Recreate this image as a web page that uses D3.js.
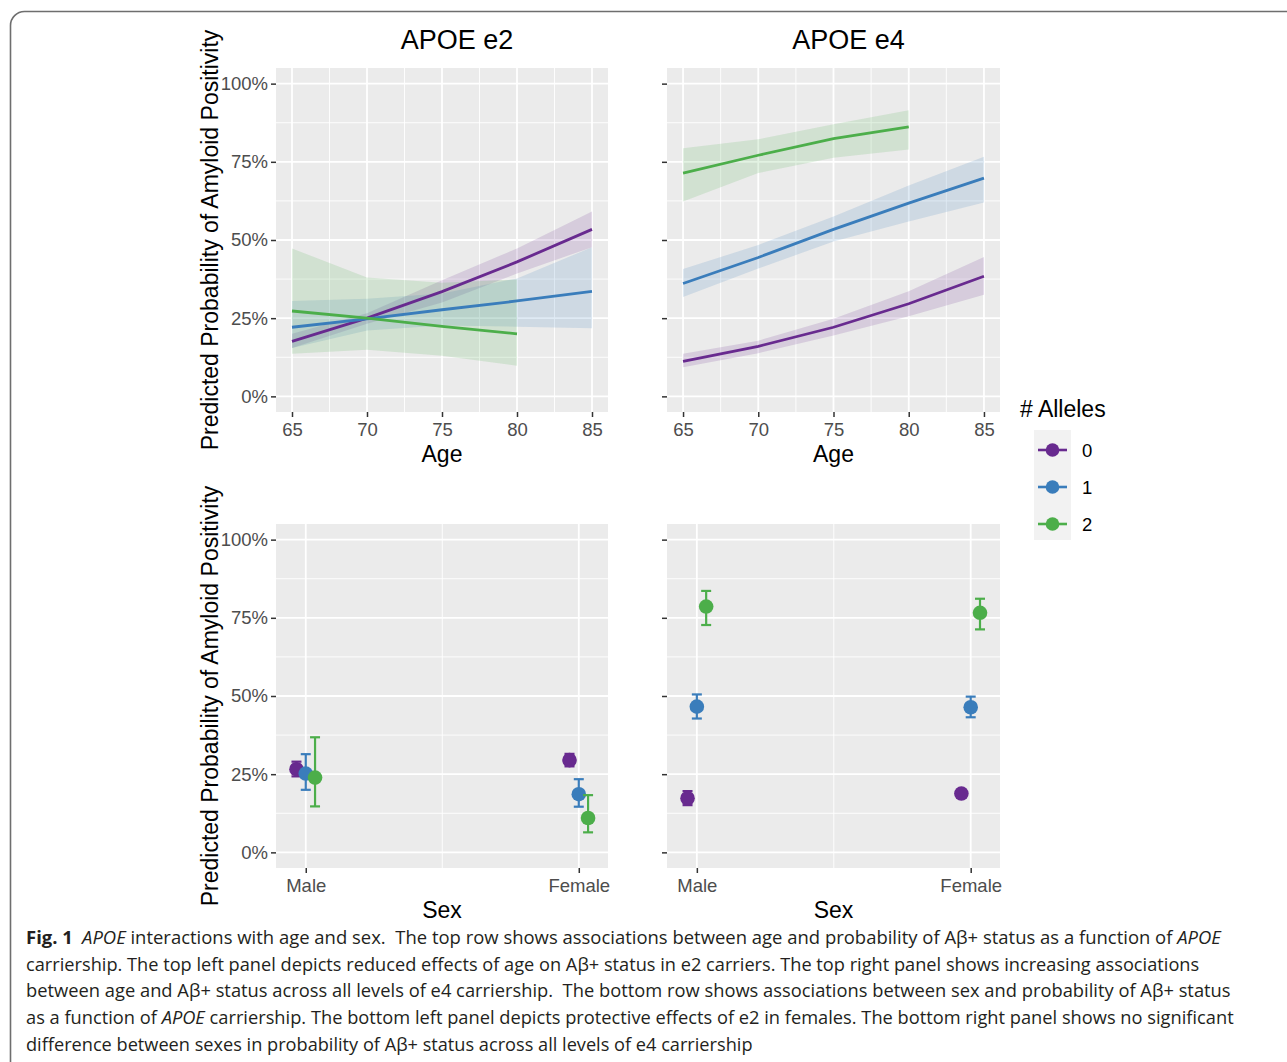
<!DOCTYPE html>
<html>
<head>
<meta charset="utf-8">
<script src="https://cdn.jsdelivr.net/npm/d3@7"></script>
<style>
  body { margin: 0; background: #fff; }
  svg { display: block; font-family: "Liberation Sans", Arial, sans-serif; }
</style>
</head>
<body>
<script>
// ---- data ----
var ages = [65, 70, 75, 80, 85];
var agesE2Hom = [65, 70, 75, 80];
var alleles = ["0", "1", "2"];
var sexes = ["Male", "Female"];
var pctTicks = [0, 0.25, 0.5, 0.75, 1];

// APOE e2, age model (fit, lower, upper)
var e2Fit0 = [0.176, 0.250, 0.335, 0.430, 0.534];
var e2Lo0 = [0.155, 0.232, 0.300, 0.393, 0.477];
var e2Hi0 = [0.200, 0.266, 0.371, 0.473, 0.591];
var e2Fit1 = [0.221, 0.248, 0.277, 0.305, 0.336];
var e2Lo1 = [0.155, 0.211, 0.227, 0.223, 0.218];
var e2Hi1 = [0.305, 0.312, 0.329, 0.377, 0.477];
var e2Fit2 = [0.273, 0.250, 0.224, 0.200];
var e2Lo2 = [0.136, 0.149, 0.130, 0.098];
var e2Hi2 = [0.473, 0.380, 0.363, 0.374];

// APOE e4, age model
var e4Fit0 = [0.112, 0.160, 0.221, 0.296, 0.384];
var e4Lo0 = [0.093, 0.138, 0.195, 0.256, 0.325];
var e4Hi0 = [0.136, 0.178, 0.248, 0.336, 0.446];
var e4Fit1 = [0.361, 0.444, 0.534, 0.618, 0.698];
var e4Lo1 = [0.318, 0.409, 0.495, 0.559, 0.620];
var e4Hi1 = [0.407, 0.484, 0.575, 0.674, 0.766];
var e4Fit2 = [0.714, 0.771, 0.824, 0.862];
var e4Lo2 = [0.623, 0.714, 0.763, 0.789];
var e4Hi2 = [0.793, 0.822, 0.870, 0.915];

// sex model (Male, Female)
var e2SexFit0 = [0.266, 0.295], e2SexLo0 = [0.243, 0.275], e2SexHi0 = [0.290, 0.315];
var e2SexFit1 = [0.252, 0.186], e2SexLo1 = [0.200, 0.146], e2SexHi1 = [0.314, 0.234];
var e2SexFit2 = [0.239, 0.110], e2SexLo2 = [0.147, 0.064], e2SexHi2 = [0.368, 0.183];
var e4SexFit0 = [0.173, 0.188], e4SexLo0 = [0.151, 0.175], e4SexHi0 = [0.196, 0.200];
var e4SexFit1 = [0.466, 0.464], e4SexLo1 = [0.428, 0.432], e4SexHi1 = [0.505, 0.498];
var e4SexFit2 = [0.786, 0.766], e4SexLo2 = [0.727, 0.713], e4SexHi2 = [0.836, 0.811];

var colors = ["#682a8f", "#3a7dbb", "#4cae4a"];

// ---- svg ----
var svgWidth = 1287;
var svgHeight = 1062;

var svg = d3.select("body")
    .append("svg")
    .attr("width", svgWidth)
    .attr("height", svgHeight);

// rounded frame around the figure
svg.append("rect")
    .attr("x", 10.5).attr("y", 11.5)
    .attr("width", 1400).attr("height", 1300)
    .attr("rx", 14)
    .attr("fill", "none")
    .attr("stroke", "#6e6e6e")
    .attr("stroke-width", 1.6);

// helper to zip arrays into rows
function rows(xs, fit, lo, hi) {
    return xs.map((x, i) => ({ x: x, fit: fit[i], lo: lo[i], hi: hi[i] }));
}

var ageData = {
    e2: [rows(ages, e2Fit0, e2Lo0, e2Hi0), rows(ages, e2Fit1, e2Lo1, e2Hi1), rows(agesE2Hom, e2Fit2, e2Lo2, e2Hi2)],
    e4: [rows(ages, e4Fit0, e4Lo0, e4Hi0), rows(ages, e4Fit1, e4Lo1, e4Hi1), rows(agesE2Hom, e4Fit2, e4Lo2, e4Hi2)]
};
var sexData = {
    e2: [rows(sexes, e2SexFit0, e2SexLo0, e2SexHi0), rows(sexes, e2SexFit1, e2SexLo1, e2SexHi1), rows(sexes, e2SexFit2, e2SexLo2, e2SexHi2)],
    e4: [rows(sexes, e4SexFit0, e4SexLo0, e4SexHi0), rows(sexes, e4SexFit1, e4SexLo1, e4SexHi1), rows(sexes, e4SexFit2, e4SexLo2, e4SexHi2)]
};

// draw one panel's background, grid and y axis
function panelFrame(left, top, w, h, y, showLabels) {
    var g = svg.append("g").attr("transform", `translate(${left}, ${top})`);
    g.append("rect").attr("width", w).attr("height", h).attr("fill", "#ebebeb");

    // minor horizontal grid
    g.selectAll(".yminor")
        .data([0.125, 0.375, 0.625, 0.875])
        .enter().append("line")
        .attr("x1", 0).attr("x2", w)
        .attr("y1", d => y(d)).attr("y2", d => y(d))
        .attr("stroke", "#fff").attr("stroke-width", 0.9);
    g.selectAll(".ymajor")
        .data(pctTicks)
        .enter().append("line")
        .attr("x1", 0).attr("x2", w)
        .attr("y1", d => y(d)).attr("y2", d => y(d))
        .attr("stroke", "#fff").attr("stroke-width", 1.8);

    var leftAxis = d3.axisLeft(y)
        .tickValues(pctTicks)
        .tickSize(5)
        .tickPadding(3)
        .tickFormat(showLabels ? d3.format(".0%") : "");
    var ax = g.append("g").call(leftAxis);
    styleAxis(ax);
    return g;
}

function styleAxis(ax) {
    ax.select(".domain").remove();
    ax.selectAll(".tick line").attr("stroke", "#333").attr("stroke-width", 1.5);
    ax.selectAll(".tick text")
        .attr("fill", "#4d4d4d")
        .attr("font-size", "18.5px")
        .attr("font-family", "Liberation Sans, Arial, sans-serif");
}

// vertical gridlines
function vGrid(g, values, x, h, width) {
    g.selectAll(null)
        .data(values)
        .enter().append("line")
        .attr("x1", d => x(d)).attr("x2", d => x(d))
        .attr("y1", 0).attr("y2", h)
        .attr("stroke", "#fff").attr("stroke-width", width);
}

// ---- top row: age panels ----
var topY = 68, topH = 344;
var bottomY = 524, bottomH = 344;
var panels = [
    { key: "e2", left: 276, width: 332, title: "APOE e2", showLabels: true },
    { key: "e4", left: 667, width: 333, title: "APOE e4", showLabels: false }
];

panels.forEach(p => {
    var y = d3.scaleLinear().domain([-0.05, 1.05]).range([topH, 0]);
    var x = d3.scaleLinear().domain([64, 86]).range([1, p.width - 1]);
    var g = panelFrame(p.left, topY, p.width, topH, y, p.showLabels);

    vGrid(g, [67.5, 72.5, 77.5, 82.5], x, topH, 0.9);
    vGrid(g, ages, x, topH, 1.8);

    var bottomAxis = d3.axisBottom(x).tickValues(ages).tickSize(5).tickPadding(6);
    var ax = g.append("g").attr("transform", `translate(0, ${topH})`).call(bottomAxis);
    styleAxis(ax);

    var area = d3.area()
        .x(d => x(d.x))
        .y0(d => y(d.lo))
        .y1(d => y(d.hi));
    var line = d3.line()
        .x(d => x(d.x))
        .y(d => y(d.fit));

    ageData[p.key].forEach((series, i) => {
        g.append("path")
            .datum(series)
            .attr("d", area)
            .attr("fill", colors[i])
            .attr("fill-opacity", 0.16);
    });
    ageData[p.key].forEach((series, i) => {
        g.append("path")
            .datum(series)
            .attr("d", line)
            .attr("fill", "none")
            .attr("stroke", colors[i])
            .attr("stroke-width", 2.8);
    });

    // panel title
    svg.append("text")
        .attr("x", p.left + p.width / 2 + 15)
        .attr("y", 49)
        .attr("text-anchor", "middle")
        .attr("font-size", "27px")
        .attr("fill", "#000")
        .text(p.title);

    // x axis title
    svg.append("text")
        .attr("x", p.left + p.width / 2)
        .attr("y", 462)
        .attr("text-anchor", "middle")
        .attr("font-size", "23px")
        .attr("fill", "#000")
        .text("Age");
});

// ---- bottom row: sex panels ----
var dodge = [-0.034, 0, 0.034];

panels.forEach(p => {
    var y = d3.scaleLinear().domain([-0.05, 1.05]).range([bottomH, 0]);
    var x = d3.scaleLinear().domain([0.891, 2.107]).range([0, p.width]);
    var xBand = d => x(sexes.indexOf(d) + 1);
    var g = panelFrame(p.left, bottomY, p.width, bottomH, y, p.showLabels);

    vGrid(g, [1.5], x, bottomH, 0.9);
    vGrid(g, [1, 2], x, bottomH, 1.8);

    var bottomAxis = d3.axisBottom(x)
        .tickValues([1, 2])
        .tickSize(5)
        .tickPadding(6)
        .tickFormat(d => sexes[d - 1]);
    var ax = g.append("g").attr("transform", `translate(0, ${bottomH})`).call(bottomAxis);
    styleAxis(ax);

    sexData[p.key].forEach((series, i) => {
        var grp = g.append("g");
        var cx = d => xBand(d.x) + (x(1 + dodge[i]) - x(1));
        // error bars
        grp.selectAll(".bar")
            .data(series).enter().append("line")
            .attr("x1", cx).attr("x2", cx)
            .attr("y1", d => y(d.lo)).attr("y2", d => y(d.hi))
            .attr("stroke", colors[i]).attr("stroke-width", 2.2);
        grp.selectAll(".capHi")
            .data(series).enter().append("line")
            .attr("x1", d => cx(d) - 5).attr("x2", d => cx(d) + 5)
            .attr("y1", d => y(d.hi)).attr("y2", d => y(d.hi))
            .attr("stroke", colors[i]).attr("stroke-width", 2.2);
        grp.selectAll(".capLo")
            .data(series).enter().append("line")
            .attr("x1", d => cx(d) - 5).attr("x2", d => cx(d) + 5)
            .attr("y1", d => y(d.lo)).attr("y2", d => y(d.lo))
            .attr("stroke", colors[i]).attr("stroke-width", 2.2);
        grp.selectAll("circle")
            .data(series).enter().append("circle")
            .attr("cx", cx)
            .attr("cy", d => y(d.fit))
            .attr("r", 7.3)
            .attr("fill", colors[i]);
    });

    svg.append("text")
        .attr("x", p.left + p.width / 2)
        .attr("y", 918)
        .attr("text-anchor", "middle")
        .attr("font-size", "23px")
        .attr("fill", "#000")
        .text("Sex");
});

// y axis titles
[topY + topH / 2, bottomY + bottomH / 2].forEach(cy => {
    svg.append("text")
        .attr("transform", `translate(218, ${cy}) rotate(-90)`)
        .attr("text-anchor", "middle")
        .attr("font-size", "23px")
        .attr("fill", "#000")
        .text("Predicted Probability of Amyloid Positivity");
});

// ---- legend ----
var legend = svg.append("g");
legend.append("text")
    .attr("x", 1020).attr("y", 417)
    .attr("font-size", "23px")
    .attr("fill", "#000")
    .text("# Alleles");
legend.append("rect")
    .attr("x", 1034).attr("y", 430)
    .attr("width", 37).attr("height", 110)
    .attr("fill", "#f2f2f2");
var keyY = d3.scalePoint().domain(alleles).range([450, 524]);
alleles.forEach((a, i) => {
    legend.append("line")
        .attr("x1", 1038).attr("x2", 1067)
        .attr("y1", keyY(a)).attr("y2", keyY(a))
        .attr("stroke", colors[i]).attr("stroke-width", 2.6);
    legend.append("circle")
        .attr("cx", 1052.5).attr("cy", keyY(a))
        .attr("r", 6.8)
        .attr("fill", colors[i]);
    legend.append("text")
        .attr("x", 1082).attr("y", keyY(a) + 6.5)
        .attr("font-size", "18.5px")
        .attr("fill", "#000")
        .text(a);
});

// ---- caption ----
var captionLines = [
    [["b", "Fig. 1"], ["n", "\u2002"], ["i", "APOE"], ["n", " interactions with age and sex.  The top row shows associations between age and probability of A\u03b2+ status as a function of "], ["i", "APOE"]],
    [["n", "carriership. The top left panel depicts reduced effects of age on A\u03b2+ status in e2 carriers. The top right panel shows increasing associations"]],
    [["n", "between age and A\u03b2+ status across all levels of e4 carriership.  The bottom row shows associations between sex and probability of A\u03b2+ status"]],
    [["n", "as a function of "], ["i", "APOE"], ["n", " carriership. The bottom left panel depicts protective effects of e2 in females. The bottom right panel shows no significant"]],
    [["n", "difference between sexes in probability of A\u03b2+ status across all levels of e4 carriership"]]
];
var captionEnds = [1222, 1200, 1231, 1234, 753];
var captionBase = [944, 970.5, 997, 1024, 1050.5];

captionLines.forEach((parts, i) => {
    var t = svg.append("text")
        .attr("font-family", "Open Sans, Noto Sans, sans-serif")
        .attr("font-size", "18.5px")
        .attr("fill", "#231f20")
        .attr("xml:space", "preserve")
        .style("white-space", "pre");
    parts.forEach(pt => {
        t.append("tspan")
            .attr("font-weight", pt[0] === "b" ? "bold" : null)
            .attr("font-style", pt[0] === "i" ? "italic" : null)
            .text(pt[1]);
    });
    var w = t.node().getComputedTextLength();
    var sx = (captionEnds[i] - 26) / w;
    t.attr("transform", `translate(26, ${captionBase[i]}) scale(${sx}, 1)`);
});
</script>
</body>
</html>
